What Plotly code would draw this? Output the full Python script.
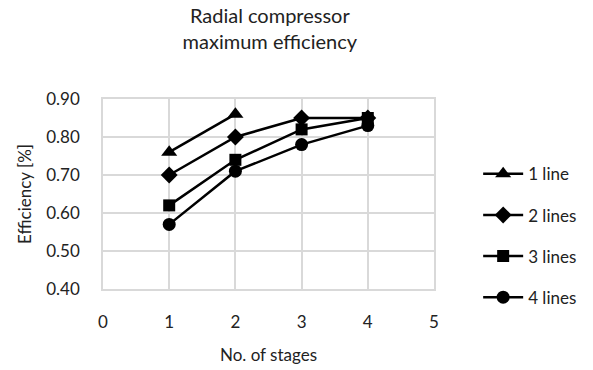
import plotly.graph_objects as go

stages = [1, 2, 3, 4]
series_names = ["1 line", "2 lines", "3 lines", "4 lines"]
eff_1 = [0.76, 0.86, None, None]
eff_2 = [0.70, 0.80, 0.85, 0.85]
eff_3 = [0.62, 0.74, 0.82, 0.85]
eff_4 = [0.57, 0.71, 0.78, 0.83]
symbols = ["triangle-up", "diamond", "square", "circle"]
sizes = [14, 13, 12, 13]

fig = go.Figure()
for name, ys, sym, sz in zip(series_names, [eff_1, eff_2, eff_3, eff_4], symbols, sizes):
    fig.add_trace(go.Scatter(
        x=stages, y=ys, name=name, mode="lines+markers",
        line=dict(color="black", width=2.5),
        marker=dict(symbol=sym, size=sz, color="black"),
        legendgroup=name,
    ))

font_family = "Lato, Open Sans, sans-serif"
fig.update_layout(
    width=593, height=370,
    margin=dict(l=103, r=158, t=99, b=81),
    paper_bgcolor="white", plot_bgcolor="white",
    font=dict(family=font_family, size=17, color="#222"),
    title=dict(text="Radial compressor<br>maximum efficiency", x=0.455, xanchor="center",
               yref="container", y=0.937, yanchor="top", font=dict(size=20, color="#222")),
    legend=dict(x=1.13, y=0.28, xanchor="left", yanchor="middle",
                font=dict(size=17), tracegroupgap=16, itemwidth=40),
    xaxis=dict(range=[0, 5], dtick=1, showgrid=True, gridcolor="#d9d9d9", gridwidth=1.5,
               zeroline=False, showline=True, linecolor="#d9d9d9", linewidth=1.5, mirror=True,
               ticks="", ticklabelstandoff=17, automargin=False,
               title=dict(text="No. of stages", standoff=18, font=dict(size=17))),
    yaxis=dict(range=[0.40, 0.90], dtick=0.1, tickformat=".2f", showgrid=True,
               gridcolor="#d9d9d9", gridwidth=1.5, automargin=False,
               zeroline=False, showline=True, linecolor="#d9d9d9", linewidth=1.5, mirror=True,
               ticks="", ticklabelstandoff=18,
               title=dict(text="Efficiency [%]", standoff=10, font=dict(size=17))),
)

fig.write_html("out.html")
